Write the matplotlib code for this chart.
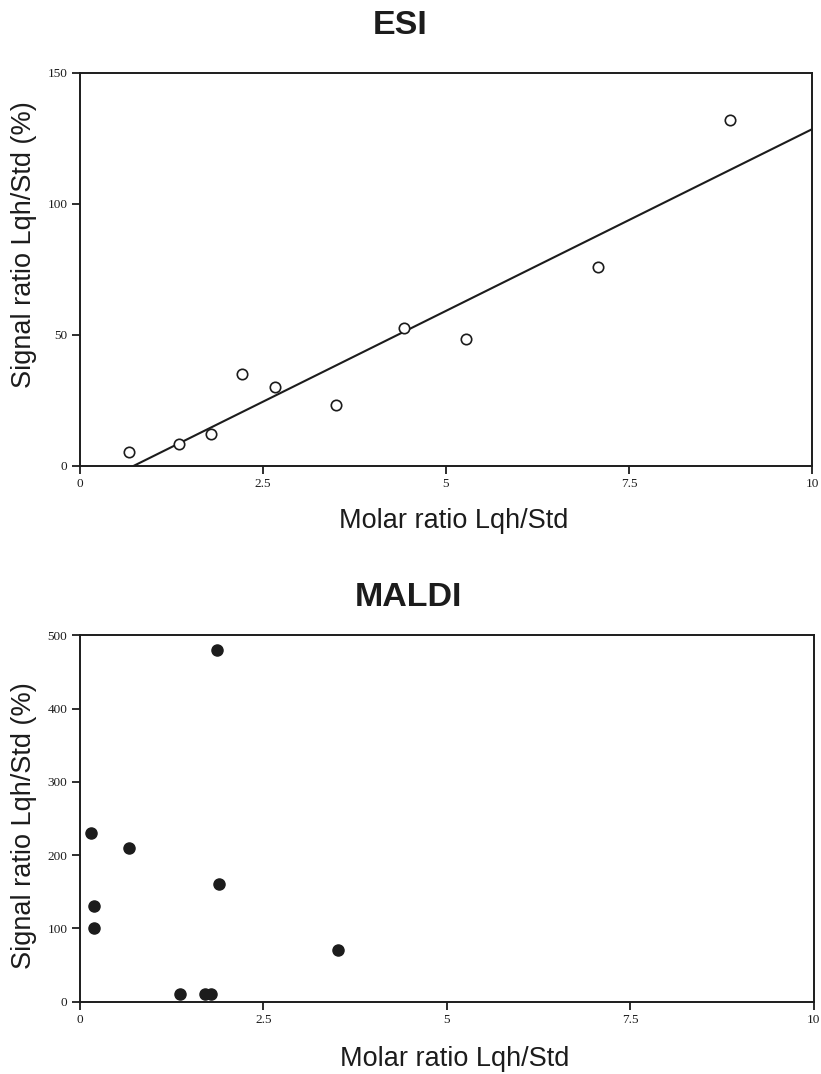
import numpy as np
import matplotlib
matplotlib.use("Agg")
import matplotlib.pyplot as plt

# ESI data (molar ratio vs signal ratio, %)
esi_x = [0.67, 1.35, 1.79, 2.21, 2.67, 3.50, 4.42, 5.28, 7.08, 8.88]
esi_y = [5.1, 8.2, 12.1, 35.0, 30.2, 23.3, 52.4, 48.5, 75.7, 131.9]

# MALDI data
maldi_x = [0.15, 0.19, 0.19, 0.67, 1.36, 1.71, 1.79, 1.87, 1.89, 3.51]
maldi_y = [230, 131, 101, 210, 10, 10, 10, 480, 161, 71]

x_ticks = [0, 2.5, 5, 7.5, 10]
x_tick_labels = ["0", "2.5", "5", "7.5", "10"]
esi_y_ticks = [0, 50, 100, 150]
maldi_y_ticks = [0, 100, 200, 300, 400, 500]

ink = "#1c1c1c"
sans = "Liberation Sans"
serif = "Liberation Serif"

fig = plt.figure(figsize=(8.21, 10.74), dpi=100)
ax1 = fig.add_axes([0.0974, 0.5664, 0.8916, 0.3659])
ax2 = fig.add_axes([0.0974, 0.0673, 0.8937, 0.3411])


def style(ax, yticks):
    ax.set_xlim(0, 10)
    ax.set_ylim(yticks[0], yticks[-1])
    ax.set_xticks(x_ticks)
    ax.set_xticklabels(x_tick_labels)
    ax.set_yticks(yticks)
    ax.set_yticklabels([str(t) for t in yticks])
    for s in ax.spines.values():
        s.set_linewidth(1.4)
        s.set_color(ink)
    ax.tick_params(direction="out", length=6, width=1.3, color=ink,
                   labelsize=9.5, labelcolor=ink, pad=3)
    for lab in ax.get_xticklabels() + ax.get_yticklabels():
        lab.set_family(serif)


# ESI panel
style(ax1, esi_y_ticks)
slope, intercept = np.polyfit(esi_x, esi_y, 1)
x0 = -intercept / slope
fit_x = np.array([x0, 10])
ax1.plot(fit_x, slope * fit_x + intercept, color=ink, lw=1.5)
ax1.plot(esi_x, esi_y, "o", ms=7.5, mfc="white", mec=ink, mew=1.2,
         clip_on=False)
ax1.set_xlabel("Molar ratio Lqh/Std", family=sans, fontsize=19.5,
               color=ink, va="center")
ax1.xaxis.set_label_coords(0.511, -0.142)
ax1.set_ylabel("Signal ratio Lqh/Std (%)", family=sans, fontsize=19.5,
               color=ink, va="center")
ax1.yaxis.set_label_coords(-0.0765, 0.5616)
fig.text(0.4872, 0.9767, "ESI", family=sans, fontsize=24.5,
         fontweight="bold", color=ink, ha="center", va="center")

# MALDI panel
style(ax2, maldi_y_ticks)
ax2.plot(maldi_x, maldi_y, "o", ms=8, color=ink, clip_on=False)
ax2.set_xlabel("Molar ratio Lqh/Std", family=sans, fontsize=19.5,
               color=ink, va="center")
ax2.xaxis.set_label_coords(0.511, -0.156)
ax2.set_ylabel("Signal ratio Lqh/Std (%)", family=sans, fontsize=19.5,
               color=ink, va="center")
ax2.yaxis.set_label_coords(-0.0763, 0.482)
fig.text(0.498, 0.4441, "MALDI", family=sans, fontsize=24.5,
         fontweight="bold", color=ink, ha="center", va="center")

fig.savefig("out.png", dpi=100)
